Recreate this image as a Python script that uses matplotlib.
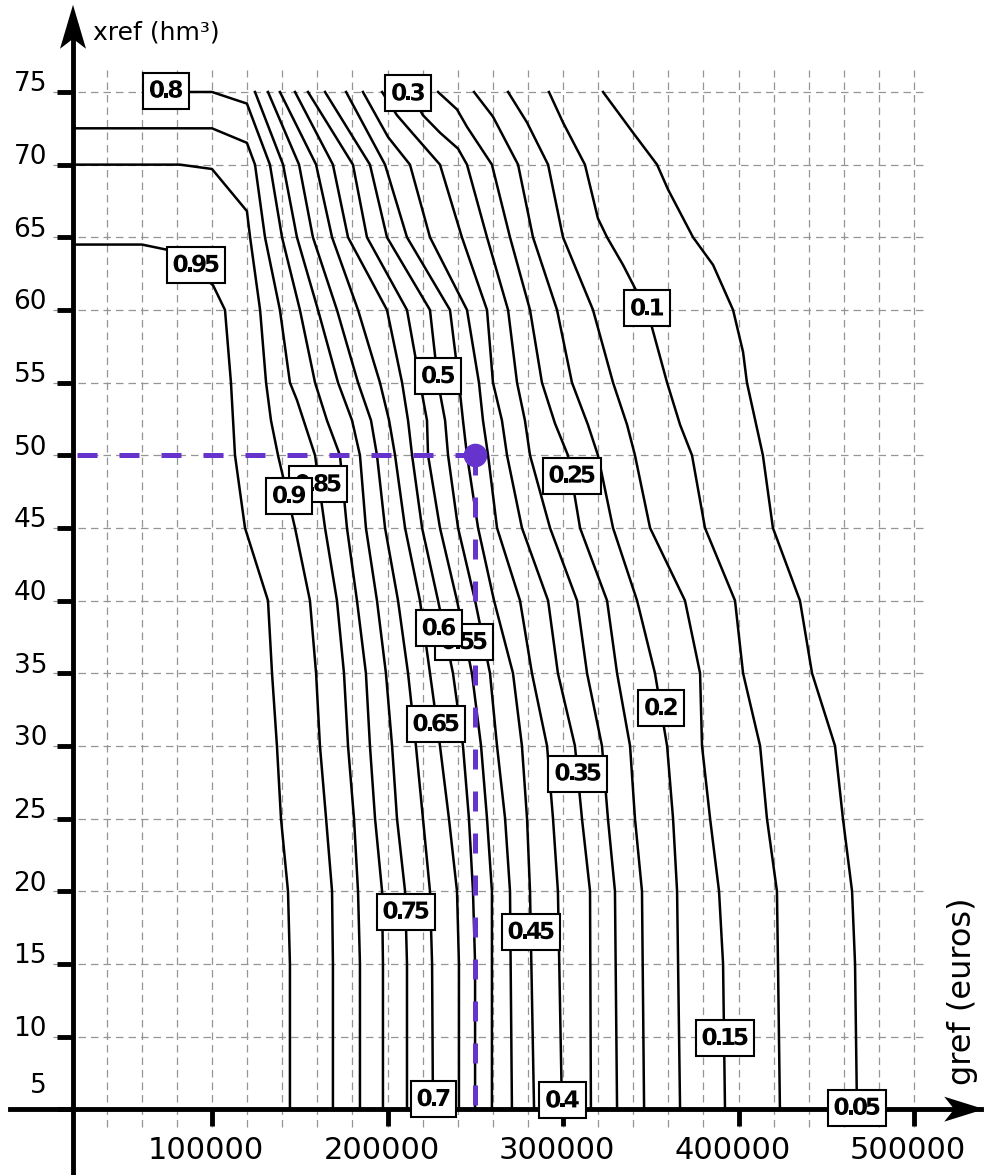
import matplotlib
matplotlib.use("Agg")
import matplotlib.pyplot as plt
from matplotlib.patches import Polygon, PathPatch, Rectangle
from matplotlib.transforms import ScaledTranslation, Affine2D, Bbox
from matplotlib.textpath import TextPath
from matplotlib.font_manager import FontProperties

# probability levels of the contour lines
levels = [0.05, 0.1, 0.15, 0.2, 0.25, 0.3, 0.35, 0.4, 0.45, 0.5,
          0.55, 0.6, 0.65, 0.7, 0.75, 0.8, 0.85, 0.9, 0.95]

# contour lines: (gref in euros, xref in hm3)
c005 = [(322800, 75), (339900, 72.2), (353600, 70), (359800, 68.3), (374100, 65),
        (385500, 63.1), (396900, 60), (402600, 57.1), (404800, 55), (413900, 50),
        (419600, 45), (435000, 40), (441900, 35), (455000, 30), (459500, 25),
        (464700, 20), (466400, 15), (467500, 5)]
c010 = [(292000, 75), (300000, 72.9), (312500, 70), (319900, 66.3), (325100, 65),
        (334200, 63.1), (341000, 61.5), (347900, 60.1), (350700, 58.8), (359300, 55),
        (366700, 52.1), (373500, 50), (380900, 45), (398000, 40), (402600, 35),
        (412300, 30), (416200, 25), (421900, 20), (422500, 15), (423600, 5)]
c015 = [(268700, 75), (279500, 72.9), (291500, 70), (300000, 65), (317100, 60),
        (328500, 55), (336500, 52.1), (341000, 50), (349600, 45), (369500, 40),
        (378100, 35), (379200, 30), (383800, 25), (388900, 20), (391200, 15), (392300, 5)]
c020 = [(249300, 75), (260100, 73.3), (274400, 70), (282900, 65), (296600, 60),
        (305100, 55), (314200, 52.1), (319900, 50), (328500, 45), (342200, 40),
        (352400, 35), (359300, 30), (362700, 25), (365000, 20), (366700, 5)]
c025 = [(228800, 75), (239600, 73.8), (245300, 72.6), (259500, 70), (269800, 65),
        (281200, 60), (288000, 55), (295400, 52.2), (302800, 50), (309700, 45),
        (325100, 40), (330800, 35), (338200, 30), (341000, 25), (345000, 20), (346200, 5)]
c030 = [(212800, 75), (220200, 73.4), (229900, 72.2), (240200, 71.1), (245300, 70),
        (256700, 65), (268700, 60), (273800, 55), (278300, 52.4), (281200, 50),
        (292600, 45), (308000, 40), (313700, 35), (322200, 30), (325600, 25),
        (329600, 20), (330800, 5)]
c035 = [(196900, 75), (205400, 73.4), (214000, 72.2), (229900, 70), (242400, 65),
        (256700, 60), (260100, 55), (265200, 52.4), (268100, 50), (276600, 45),
        (291500, 40), (297100, 35), (306800, 30), (310800, 25), (315400, 20), (315900, 5)]
c040 = [(186000, 75), (200300, 71.9), (212800, 70), (224200, 65), (245300, 60),
        (252100, 55), (254400, 52.4), (257300, 50), (262400, 45), (275500, 40),
        (282300, 35), (290900, 30), (294300, 25), (297100, 20), (299400, 5)]
c045 = [(176400, 75), (198600, 70), (211100, 65), (235600, 60), (240700, 55),
        (243000, 52.4), (245300, 50), (251600, 45), (260700, 40), (271500, 35),
        (276600, 30), (279500, 25), (281200, 20), (283500, 5)]
c050 = [(164400, 75), (190000, 70), (199700, 65), (224200, 60), (228800, 55),
        (232800, 52.4), (234500, 50), (240200, 45), (249900, 40), (258400, 35),
        (262400, 30), (267000, 25), (269800, 20), (270900, 5)]
c055 = [(154700, 75), (180300, 70), (188300, 65), (211100, 60), (218500, 55),
        (222500, 52.4), (223100, 50), (229900, 45), (239600, 40), (248100, 35),
        (253300, 30), (256700, 25), (259500, 20), (259500, 5)]
c060 = [(147300, 75), (168900, 70), (177500, 65), (199700, 60), (208300, 55),
        (211700, 52.4), (214000, 50), (219700, 45), (228800, 40), (237300, 35),
        (243000, 30), (246400, 25), (248700, 20), (249900, 15), (249900, 5)]
c065 = [(138700, 75), (159300, 70), (168400, 65), (183200, 60), (195700, 55),
        (200900, 52.4), (204300, 50), (210000, 45), (218500, 40), (224200, 35),
        (229900, 30), (235000, 25), (239600, 20), (240700, 15), (240700, 5)]
c070 = [(131900, 75), (149600, 70), (157500, 65), (171200, 60), (183200, 55),
        (190600, 52.4), (194000, 50), (198600, 45), (206000, 40), (211700, 35),
        (216200, 30), (220200, 25), (224200, 20), (225400, 15), (225900, 5)]
c075 = [(124500, 75), (140500, 70), (148400, 65), (160400, 60), (171800, 55),
        (179800, 52.4), (184300, 50), (187700, 45), (194000, 40), (199100, 35),
        (202600, 30), (205400, 25), (210000, 20), (211100, 15), (211100, 5)]
c080 = [(64700, 75), (100000, 75), (119900, 74.2), (133000, 70), (139900, 65),
        (150100, 60), (158700, 55), (165500, 52.4), (172900, 50), (176900, 45),
        (182600, 40), (187700, 35), (190000, 30), (192900, 25), (196900, 20),
        (197400, 15), (197400, 5)]
c085 = [(20800, 72.5), (100000, 72.5), (119900, 71.5), (124500, 70), (130200, 65),
        (138700, 60), (144400, 55), (148400, 53.8), (158700, 50), (164400, 45),
        (171200, 40), (175200, 35), (177500, 30), (180900, 25), (183200, 20),
        (184300, 15), (184300, 5)]
c090 = [(20800, 70), (81800, 70), (100000, 69.7), (119900, 66.8), (121700, 65),
        (127400, 60), (130800, 55), (133600, 52.4), (137600, 50), (147300, 45),
        (155800, 40), (159300, 35), (161500, 30), (165000, 25), (168400, 20),
        (168900, 15), (168900, 5)]
c095 = [(20800, 64.5), (60100, 64.5), (76100, 64.1), (100600, 61.7), (107400, 60),
        (110800, 55), (112000, 52.4), (113100, 50), (118800, 45), (131900, 40),
        (134200, 35), (137000, 30), (139300, 25), (143300, 20), (144400, 15), (144400, 5)]
contours = [c005, c010, c015, c020, c025, c030, c035, c040, c045, c050,
            c055, c060, c065, c070, c075, c080, c085, c090, c095]

# where each level's label box sits
label_x = [467500, 347900, 392300, 355800, 305100, 211700, 308500, 299700, 281800, 228800,
           243600, 229300, 227600, 226200, 210500, 73800, 160400, 143900, 90900]
label_y = [5.1, 60.1, 9.9, 32.6, 48.6, 74.9, 28.1, 5.6, 17.2, 55.45,
           37.15, 38.1, 31.5, 5.7, 18.6, 75.1, 48.0, 47.2, 63.1]

# highlighted point
gref_pt, xref_pt = 250000, 50

xticks = [100000, 200000, 300000, 400000, 500000]
yticks = [5, 10, 15, 20, 25, 30, 35, 40, 45, 50, 55, 60, 65, 70, 75]
grid_x = list(range(40000, 500001, 20000))
grid_y = list(range(10, 76, 5))

axis_x, axis_y = 20800, 5    # where the two arrow axes cross
purple = "#6633cc"

fig = plt.figure(figsize=(9.85, 11.75), dpi=100)
ax = fig.add_axes([0, 0, 1, 1])
ax.set_xlim(-20800, 540450)
ax.set_ylim(0.47, 81.33)

for s in ("top", "right"):
    ax.spines[s].set_visible(False)
ax.spines["left"].set_position(("data", axis_x))
ax.spines["bottom"].set_position(("data", axis_y))
ax.spines["left"].set_bounds(0.47, 80.0)
ax.spines["bottom"].set_bounds(-15100, 538000)
for s in ("left", "bottom"):
    ax.spines[s].set_linewidth(3.5)
    ax.spines[s].set_zorder(6)
ax.set_xticks(xticks)
ax.set_yticks(yticks)
ax.tick_params(direction="out", width=3.5, labelbottom=False, labelleft=False)
ax.tick_params(axis="x", length=12)
ax.tick_params(axis="y", length=11.5)

# dashed grey grid
ax.vlines(grid_x, 3.76, 76.5, colors="#959595", lw=0.9, linestyles=(0, (6, 4)), zorder=1)
ax.hlines(grid_y, 9400, 506300, colors="#959595", lw=0.9, linestyles=(0, (6, 4)), zorder=1)

for pts in contours:
    xs, ys = zip(*pts)
    ax.plot(xs, ys, color="black", lw=1.8, zorder=3)

ax.plot([gref_pt, axis_x], [xref_pt, xref_pt], color=purple, lw=3.6, dashes=(4, 4.4), zorder=4)
ax.plot([gref_pt, gref_pt], [xref_pt, axis_y], color=purple, lw=3.6, dashes=(4, 4.4), zorder=4)
ax.plot(gref_pt, xref_pt, "o", ms=16, color=purple, zorder=5)

# contour labels: bold DejaVu with tight letter spacing, in a white box (pixel units)
label_font = FontProperties(family="DejaVu Sans", weight="bold")
EM, TRACK = 23.3, 3.3


def boxed_label(x, y, s, z):
    anchor = ScaledTranslation(x, y, ax.transData)
    glyphs, pos = [], 0.0
    for ch in s:
        glyphs.append(TextPath((pos, 0), ch, size=EM, prop=label_font))
        pos += (0.38 if ch == "." else 0.696) * EM - TRACK
    ext = Bbox.union([g.get_extents() for g in glyphs])
    shift = Affine2D().translate(-(ext.x0 + ext.x1) / 2, -(ext.y0 + ext.y1) / 2 + 1.5)
    bw, bh = ext.width + 14, 36
    ax.add_patch(Rectangle((-bw / 2, -bh / 2), bw, bh, fc="white", ec="black", lw=1.5,
                           transform=anchor, zorder=z, clip_on=False))
    for g in glyphs:
        ax.add_patch(PathPatch(g, fc="black", ec="none", transform=shift + anchor,
                               zorder=z + 0.5, clip_on=False))


for i, (lv, lx, ly) in enumerate(zip(levels, label_x, label_y)):
    boxed_label(lx, ly, f"{lv:g}", 10 + i)

for v in yticks:
    off = 16.5 if v == 5 else 5.5
    ax.annotate(str(v), (axis_x, v), xytext=(-18.7, off), textcoords="offset points",
                ha="right", va="center", fontsize=19)
for v in xticks:
    ax.annotate(str(v), (v, axis_y), xytext=(-4.3, -30), textcoords="offset points",
                ha="center", va="center", fontsize=22)

ax.text(32200, 79.1, "xref (hm³)", fontsize=18, ha="left", va="center")
ax.text(527400, 6.66, "gref (euros)", rotation=90, fontsize=23, ha="center", va="bottom")


def arrow_head(x, y, verts):
    tr = fig.dpi_scale_trans + ScaledTranslation(x, y, ax.transData)
    ax.add_patch(Polygon(verts, closed=True, fc="black", ec="none", transform=tr,
                         clip_on=False, zorder=7))


arrow_head(axis_x, 81.0, [(0, 0), (-0.13, -0.44), (0, -0.34), (0.13, -0.44)])
arrow_head(540000, axis_y, [(0, 0), (-0.40, 0.125), (-0.30, 0), (-0.40, -0.125)])

fig.savefig("out.png", dpi=100, facecolor="white")
